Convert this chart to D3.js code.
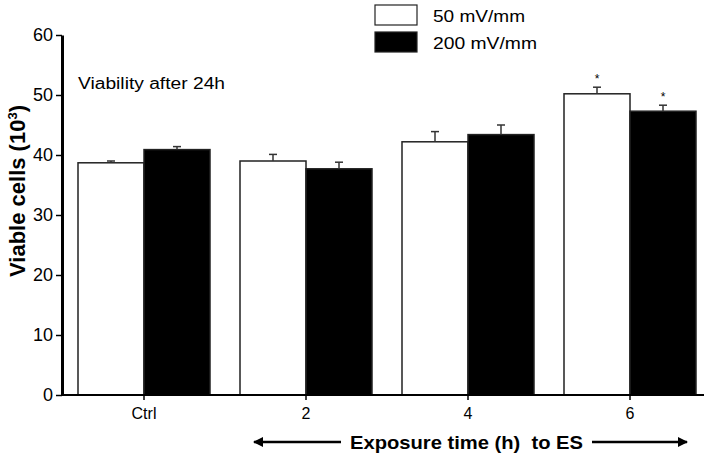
<!DOCTYPE html>
<html>
<head>
<meta charset="utf-8">
<script src="https://cdn.jsdelivr.net/npm/d3@7"></script>
<style>
html,body{margin:0;padding:0;background:#fff;}
svg{display:block;font-family:"Liberation Sans",Arial,sans-serif;}
text{white-space:pre;}
</style>
</head>
<body>
<svg id="chart" width="714" height="461"></svg>
<script>
const categories = ["Ctrl", "2", "4", "6"];
const mean50 = [38.7, 39.0, 42.2, 50.2];
const err50 = [0.3, 1.1, 1.7, 1.1];
const mean200 = [40.9, 37.7, 43.4, 47.3];
const err200 = [0.5, 1.1, 1.6, 1.0];
const sig50 = [false, false, false, true];
const sig200 = [false, false, false, true];
const yTicks = [0, 10, 20, 30, 40, 50, 60];
const seriesNames = ["50 mV/mm", "200 mV/mm"];

const svg = d3.select("#chart");
const y = d3.scaleLinear().domain([0, 60]).range([395, 35]);
const x = d3.scaleBand().domain(categories).range([63, 711]).padding(0);
const barW = 66;

const series = [
  {name: seriesNames[0], mean: mean50, err: err50, sig: sig50, fill: "#fff", off: -barW, tl: 92},
  {name: seriesNames[1], mean: mean200, err: err200, sig: sig200, fill: "#000", off: 0, tl: 104}
];

const center = c => x(c) + x.bandwidth() / 2;

// bars
series.forEach(s => {
  const g = svg.append("g");
  categories.forEach((c, i) => {
    const bx = center(c) + s.off;
    g.append("rect")
      .attr("x", bx).attr("y", y(s.mean[i]))
      .attr("width", barW).attr("height", y(0) - y(s.mean[i]))
      .attr("fill", s.fill).attr("stroke", "#222").attr("stroke-width", 1.5);
    const mx = bx + barW / 2;
    g.append("line").attr("x1", mx).attr("x2", mx)
      .attr("y1", y(s.mean[i])).attr("y2", y(s.mean[i] + s.err[i]))
      .attr("stroke", "#333").attr("stroke-width", 1.5);
    g.append("line").attr("x1", mx - 4).attr("x2", mx + 4)
      .attr("y1", y(s.mean[i] + s.err[i])).attr("y2", y(s.mean[i] + s.err[i]))
      .attr("stroke", "#333").attr("stroke-width", 1.5);
    if (s.sig[i]) {
      g.append("text").attr("x", mx).attr("y", y(s.mean[i] + s.err[i]) - 4)
        .attr("text-anchor", "middle").attr("font-size", 12).text("*");
    }
  });
});

// y axis
const yAxis = svg.append("g").attr("transform", "translate(62,0)")
  .call(d3.axisLeft(y).tickValues(yTicks).tickSize(6).tickSizeOuter(0).tickPadding(3));
yAxis.select(".domain").attr("stroke", "#000").attr("stroke-width", 3);
yAxis.selectAll(".tick line").attr("stroke", "#000").attr("stroke-width", 1.5);
yAxis.selectAll(".tick text").attr("font-size", 18).attr("fill", "#000")
  .attr("font-family", "Liberation Sans, Arial, sans-serif");

// x axis
const xAxis = svg.append("g").attr("transform", "translate(0,395)")
  .call(d3.axisBottom(x).tickSize(5).tickSizeOuter(0).tickPadding(8));
xAxis.select(".domain").remove();
xAxis.selectAll(".tick line").attr("stroke", "#000").attr("stroke-width", 1.5);
xAxis.selectAll(".tick text").attr("font-size", 16).attr("fill", "#000")
  .attr("font-family", "Liberation Sans, Arial, sans-serif");
svg.append("line").attr("x1", 61).attr("x2", 704).attr("y1", 395).attr("y2", 395)
  .attr("stroke", "#000").attr("stroke-width", 2);

// annotation
svg.append("text").attr("x", 78).attr("y", 89).attr("font-size", 16)
  .attr("textLength", 147).attr("lengthAdjust", "spacingAndGlyphs").text("Viability after 24h");

// y title
const yt = svg.append("text").attr("transform", "translate(25,191) rotate(-90)")
  .attr("text-anchor", "middle").attr("font-size", 22).attr("font-weight", "bold");
yt.append("tspan").text("Viable cells (10");
yt.append("tspan").attr("font-size", 13).attr("dy", -8).text("3");
yt.append("tspan").attr("dy", 8).text(")");

// x title with arrows
svg.append("text").attr("x", 350).attr("y", 449)
  .attr("font-size", 19).attr("font-weight", "bold")
  .attr("textLength", 233).attr("lengthAdjust", "spacingAndGlyphs")
  .text("Exposure time (h)  to ES");
const defs = svg.append("defs");
defs.append("marker").attr("id", "ah").attr("viewBox", "0 0 10 10")
  .attr("refX", 9).attr("refY", 5).attr("markerWidth", 5).attr("markerHeight", 4)
  .attr("orient", "auto-start-reverse").attr("markerUnits", "strokeWidth")
  .append("path").attr("d", "M0,0 L10,5 L0,10 Z").attr("fill", "#000");
svg.append("line").attr("x1", 341).attr("x2", 254).attr("y1", 442).attr("y2", 442)
  .attr("stroke", "#000").attr("stroke-width", 2.5).attr("marker-end", "url(#ah)");
svg.append("line").attr("x1", 592).attr("x2", 687).attr("y1", 442).attr("y2", 442)
  .attr("stroke", "#000").attr("stroke-width", 2.5).attr("marker-end", "url(#ah)");

// legend
const lg = svg.append("g");
series.forEach((s, i) => {
  lg.append("rect").attr("x", 375).attr("y", 5 + i * 27).attr("width", 42).attr("height", 20)
    .attr("fill", s.fill).attr("stroke", "#222").attr("stroke-width", 1.2);
  lg.append("text").attr("x", 433).attr("y", 22 + i * 27).attr("font-size", 17)
    .attr("textLength", s.tl).attr("lengthAdjust", "spacingAndGlyphs").text(s.name);
});
</script>
</body>
</html>
